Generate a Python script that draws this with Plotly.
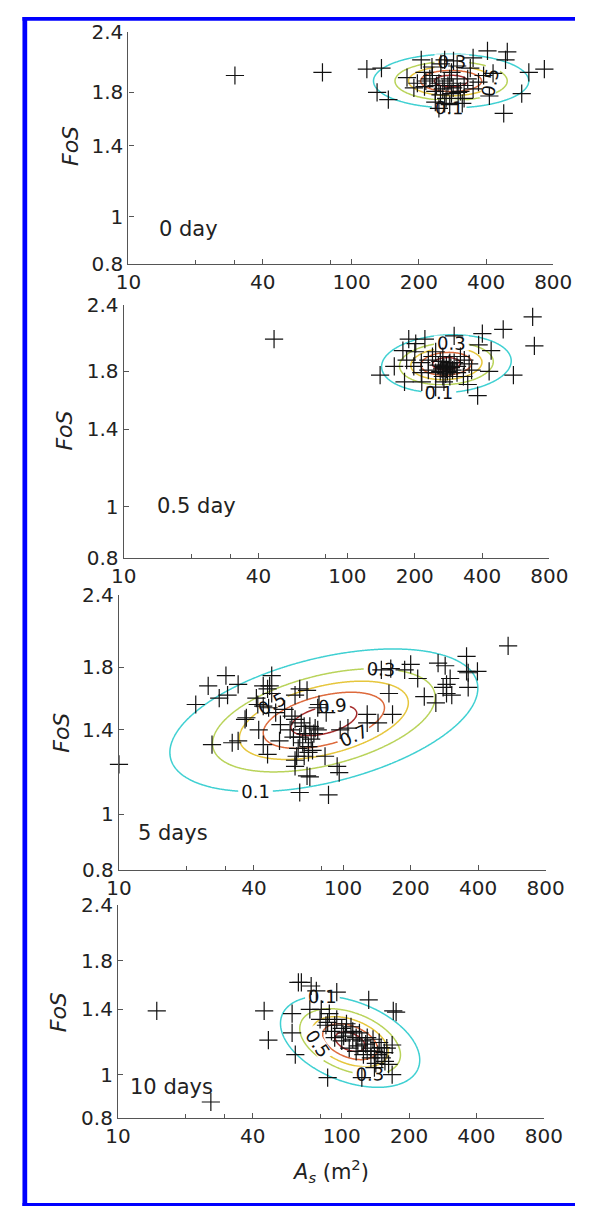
import numpy as np
import plotly.graph_objects as go

W, H = 594, 1218

panel_labels = ["0 day", "0.5 day", "5 days", "10 days"]

# ---- data: surface area A_s (m^2) and factor of safety FoS ----
A_day0 = [30, 74, 117, 136, 130, 146, 177, 205, 261, 350, 406, 498, 489, 430, 622, 730, 578, 480, 414,
          197, 212, 224, 237, 246, 256, 265, 275, 280, 297, 307, 319, 331, 237, 246, 261, 275, 313, 297,
          350, 370, 319, 212, 229, 251, 286, 190, 240, 260, 270, 285, 300, 250, 230, 280, 340, 390, 215]
F_day0 = [1.95, 1.98, 2.01, 2.02, 1.80, 1.74, 1.93, 2.10, 2.10, 2.12, 2.19, 2.18, 2.10, 1.97, 1.98, 2.01, 1.79, 1.63, 1.77,
          1.88, 1.85, 1.92, 1.81, 1.88, 1.83, 1.75, 1.92, 1.98, 1.88, 1.81, 1.86, 1.92, 1.72, 1.67, 1.71, 1.70, 1.71, 2.04,
          1.83, 1.89, 1.75, 1.98, 2.03, 2.06, 2.09, 1.84, 1.86, 1.90, 1.86, 1.84, 1.80, 1.78, 1.95, 1.79, 2.02, 1.95, 1.90]

A_day05 = [47, 673, 685, 497, 401, 552, 382, 140, 162, 177, 188, 222, 202, 248, 345, 439, 386, 300, 430, 180,
           184, 198, 214, 230, 248, 267, 277, 287, 309, 333, 359, 267, 248, 287, 309, 230, 214, 267, 277, 290,
           260, 300, 320, 350, 240, 200, 215, 270, 330, 260, 280, 295, 270, 285, 265, 275, 255]
F_day05 = [2.07, 2.28, 2.01, 2.16, 2.12, 1.77, 1.62, 1.77, 1.84, 1.97, 2.07, 2.07, 2.03, 1.68, 1.70, 1.97, 2.02, 2.10, 1.80, 1.72,
           1.89, 1.84, 1.87, 1.81, 1.79, 1.84, 1.82, 1.87, 1.84, 1.89, 1.81, 1.92, 1.96, 1.76, 1.79, 1.89, 1.79, 1.76, 1.85, 1.83,
           1.80, 1.87, 1.92, 1.86, 1.92, 1.96, 1.72, 1.72, 1.76, 1.88, 1.80, 1.81, 1.83, 1.86, 1.82, 1.78, 1.85]

A_day5 = [22, 25, 30, 34, 28, 30.5, 26, 32, 34, 36.5, 37, 41, 44, 46, 47, 48, 48, 41.6, 44, 46.5,
          42, 44, 46, 52, 54.8, 50, 52.5, 61, 64, 69, 59, 61, 58, 60, 64, 63, 61, 67, 70, 73,
          61, 71, 69, 64, 86, 83, 94, 96, 67, 71, 75, 77, 74, 77, 78, 84, 97, 105, 128, 128,
          143, 166, 160, 148, 163, 188, 200, 215, 230, 259, 265, 285, 279, 289, 300, 305, 289, 355, 361, 361,
          397, 355, 544, 10, 66, 68, 72, 65, 70, 62]
F_day5 = [1.55, 1.67, 1.74, 1.68, 1.59, 1.61, 1.32, 1.33, 1.34, 1.46, 1.47, 1.59, 1.67, 1.65, 1.67, 1.74, 1.62, 1.55, 1.54, 1.53,
          1.40, 1.32, 1.27, 1.34, 1.52, 1.50, 1.43, 1.61, 1.65, 1.64, 1.48, 1.46, 1.40, 1.36, 1.36, 1.30, 1.24, 1.26, 1.28, 1.29,
          1.21, 1.16, 1.165, 1.09, 1.08, 1.26, 1.21, 1.18, 1.42, 1.42, 1.41, 1.40, 1.38, 1.53, 1.55, 1.50, 1.40, 1.41, 1.49, 1.44,
          1.44, 1.49, 1.62, 1.78, 1.79, 1.78, 1.82, 1.72, 1.60, 1.56, 1.83, 1.81, 1.66, 1.68, 1.72, 1.61, 1.62, 1.88, 1.76, 1.66,
          1.77, 1.77, 1.96, 1.22, 1.33, 1.38, 1.35, 1.44, 1.31, 1.26]

A_day10 = [14.9, 26, 45, 47, 60, 60, 62, 64, 66, 73, 77, 95, 132, 72, 81, 88, 86.5, 123, 175, 168, 140, 170,
           80, 86.5, 93, 100, 104, 112, 116, 123, 130, 135, 140, 145, 151, 156, 162, 108, 116, 125, 135, 100,
           93, 159, 168, 95, 105, 110, 120, 128, 118, 138, 150, 142, 155, 112, 130, 147, 85, 90, 102]
F_day10 = [1.39, 0.868, 1.39, 1.195, 1.37, 1.24, 1.108, 1.61, 1.61, 1.58, 1.54, 1.53, 1.47, 1.40, 1.40, 1.37, 0.984, 0.984, 1.38, 1.0, 1.036, 1.39,
           1.33, 1.31, 1.29, 1.27, 1.24, 1.25, 1.21, 1.19, 1.21, 1.146, 1.127, 1.108, 1.09, 1.07, 1.054, 1.146, 1.127, 1.108, 1.09, 1.19,
           1.21, 1.146, 1.165, 1.33, 1.30, 1.28, 1.24, 1.17, 1.16, 1.20, 1.15, 1.06, 1.12, 1.20, 1.13, 1.18, 1.29, 1.25, 1.22]

A_series = [A_day0, A_day05, A_day5, A_day10]
F_series = [F_day0, F_day05, F_day5, F_day10]

# ---- fitted bivariate lognormal (log10 space), density scaled to peak 1 ----
fit_A_center = [279, 277, 82, 109]
fit_F_center = [1.90, 1.86, 1.455, 1.185]
fit_sd_logA = [0.162, 0.135, 0.320, 0.145]
fit_sd_logF = [0.0257, 0.0255, 0.0578, 0.0477]
fit_rho = [0.0, 0.1, 0.45, -0.4]
contour_levels = [0.1, 0.3, 0.5, 0.7, 0.9]
contour_colors = ["#3fd0d2", "#b9d35a", "#e6c63c", "#dd6a3c", "#a52a2a"]

x_tickvals = [10, 40, 100, 200, 400, 800]
x_ticktext = ["10", "40", "100", "200", "400", "800"]
x_minor_tickvals = [20, 30, 80]
y_tickvals = [0.8, 1, 1.4, 1.8, 2.4]
y_ticktext = ["0.8", "1", "1.4", "1.8", "2.4"]
x_range = [10, 800]
y_range = [0.8, 2.4]

# panel boxes in pixels: left, right, top, bottom
boxes = [(122, 571, 20, 257), (117, 567, 299, 557), (112, 563, 595, 875), (111, 561, 911, 1128)]
label_pos = [(152, 221), (150, 504), (130, 837), (122, 1097)]
fos_pos = [(61, 137), (55, 427), (51, 735), (49, 1020)]

FONT = "DejaVu Sans, Liberation Sans, Arial, sans-serif"
fig = go.Figure()
annotations = []
shapes = []

gx = np.logspace(np.log10(x_range[0]), np.log10(x_range[1]), 400)
gy = np.logspace(np.log10(y_range[0]), np.log10(y_range[1]), 400)
LX, LY = np.meshgrid(np.log10(gx), np.log10(gy))

levels = contour_levels
n = len(levels)
cscale = [[i / (n - 1), c] for i, c in enumerate(contour_colors)]

for i in range(4):
    xa = "x" if i == 0 else f"x{i+1}"
    ya = "y" if i == 0 else f"y{i+1}"
    u = (LX - np.log10(fit_A_center[i])) / fit_sd_logA[i]
    v = (LY - np.log10(fit_F_center[i])) / fit_sd_logF[i]
    r = fit_rho[i]
    q = (u * u - 2 * r * u * v + v * v) / (1 - r * r)
    z = np.exp(-0.5 * q)
    fig.add_trace(go.Contour(
        x=gx, y=gy, z=z, xaxis=xa, yaxis=ya,
        contours=dict(start=levels[0], end=levels[-1], size=levels[1] - levels[0],
                      coloring="lines", showlabels=True,
                      labelfont=dict(size=18, color="#111", family=FONT), labelformat=".1f"),
        colorscale=cscale, zauto=False, zmin=levels[0], zmax=levels[-1],
        line=dict(width=1.5, smoothing=1), showscale=False, hoverinfo="skip"))
    fig.add_trace(go.Scatter(
        x=A_series[i], y=F_series[i], xaxis=xa, yaxis=ya, mode="markers",
        marker=dict(symbol="cross-thin", size=13, line=dict(width=1.2, color="#111")),
        cliponaxis=False, showlegend=False))

    l, rr, t, b = boxes[i]
    axis_common = dict(type="log", showgrid=False, zeroline=False, showline=True,
                       linecolor="#555", linewidth=1.3, ticks="inside", ticklen=5,
                       tickcolor="#555", tickwidth=1.2, mirror=False,
                       tickfont=dict(family=FONT, size=20, color="#222"))
    fig.update_layout(**{
        ("xaxis" if i == 0 else f"xaxis{i+1}"): dict(
            axis_common, domain=[l / W, rr / W], anchor=ya,
            range=[np.log10(x_range[0]), np.log10(x_range[1])],
            tickmode="array", tickvals=x_tickvals, ticktext=x_ticktext,
            minor=dict(tickmode="array", tickvals=x_minor_tickvals, ticks="inside",
                       ticklen=4, tickcolor="#555", tickwidth=1.2, showgrid=False)),
        ("yaxis" if i == 0 else f"yaxis{i+1}"): dict(
            axis_common, domain=[1 - b / H, 1 - t / H], anchor=xa,
            range=[np.log10(y_range[0]), np.log10(y_range[1])],
            tickmode="array", tickvals=y_tickvals, ticktext=y_ticktext),
    })
    lx, ly = label_pos[i]
    annotations.append(dict(text=panel_labels[i], x=lx / W, y=1 - ly / H, xref="paper", yref="paper",
                            xanchor="left", yanchor="middle", showarrow=False,
                            font=dict(family=FONT, size=21, color="#222")))
    fx, fy = fos_pos[i]
    annotations.append(dict(text="<i>FoS</i>", x=fx / W, y=1 - fy / H, xref="paper", yref="paper",
                            xanchor="center", yanchor="middle", showarrow=False, textangle=-90,
                            font=dict(family=FONT, size=22, color="#222")))

annotations.append(dict(text="<i>A</i><sub><i>s</i></sub> (m<sup>2</sup>)", x=336 / W, y=1 - 1182 / H,
                        xref="paper", yref="paper", xanchor="center", yanchor="middle", showarrow=False,
                        font=dict(family=FONT, size=21, color="#222")))

# blue frame
shapes.append(dict(type="rect", xref="paper", yref="paper", x0=10 / W, x1=15 / W, y0=0, y1=1 - 5 / H,
                   fillcolor="#0000ff", line=dict(width=0), layer="above"))
shapes.append(dict(type="rect", xref="paper", yref="paper", x0=10 / W, x1=1, y0=1 - 9 / H, y1=1 - 5 / H,
                   fillcolor="#0000ff", line=dict(width=0), layer="above"))
shapes.append(dict(type="rect", xref="paper", yref="paper", x0=10 / W, x1=1, y0=0, y1=3 / H,
                   fillcolor="#0000ff", line=dict(width=0), layer="above"))

fig.update_layout(width=W, height=H, margin=dict(l=0, r=0, t=0, b=0),
                  paper_bgcolor="white", plot_bgcolor="white", showlegend=False,
                  annotations=annotations, shapes=shapes)
fig.write_html("out.html",
               post_script="document.body.style.margin='0px';document.body.style.overflow='hidden';"
                           "document.documentElement.style.overflow='hidden';")
